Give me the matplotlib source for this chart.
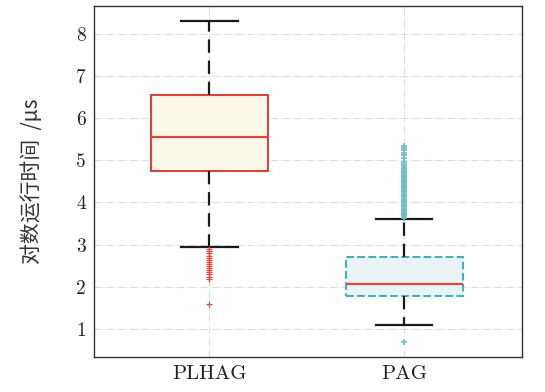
import matplotlib
matplotlib.use("Agg")
import matplotlib.pyplot as plt

# values
labels = ["PLHAG", "PAG"]
whislo = [2.94, 1.09]
q1 = [4.74, 1.79]
med = [5.55, 2.07]
q3 = [6.54, 2.70]
whishi = [8.30, 3.61]
fliers_plhag = [2.89, 2.84, 2.79, 2.74, 2.69, 2.64, 2.59, 2.54, 2.49,
                2.44, 2.39, 2.34, 2.29, 2.24, 2.19, 1.60]
fliers_pag = [0.68, 3.64, 3.67, 3.70, 3.73, 3.76, 3.79, 3.82, 3.85, 3.88, 3.91, 3.94,
              3.97, 4.00, 4.03, 4.06, 4.09, 4.12, 4.15, 4.18, 4.21, 4.24, 4.27, 4.30,
              4.33, 4.36, 4.39, 4.42, 4.45, 4.48, 4.51, 4.54, 4.57, 4.60, 4.63, 4.66,
              4.69, 4.72, 4.75, 4.78, 4.82, 4.86, 4.90, 4.96, 5.05, 5.12, 5.18, 5.24,
              5.29, 5.34]
yticks = [1, 2, 3, 4, 5, 6, 7, 8]

edge_colors = ["#d6453b", "#3fb4b4"]
face_colors = ["#fdf9ea", "#e9f3f6"]
flier_colors = ["#e8473d", "#6bbfcb"]
flier_widths = [0.9, 1.2]
box_styles = ["-", "--"]

fig = plt.figure(figsize=(5.45, 3.92), dpi=100)
ax = fig.add_axes([0.173, 0.09, 0.785, 0.895])

stats = []
for i, name in enumerate(labels):
    stats.append({
        "label": name, "whislo": whislo[i], "q1": q1[i], "med": med[i],
        "q3": q3[i], "whishi": whishi[i],
        "fliers": fliers_plhag if i == 0 else fliers_pag,
    })

for i, st in enumerate(stats):
    ax.bxp([st], positions=[i + 1], widths=0.6, patch_artist=True,
           capwidths=0.29,
           boxprops=dict(facecolor=face_colors[i], edgecolor=edge_colors[i],
                         linewidth=1.5, linestyle=box_styles[i]),
           medianprops=dict(color="#e0453a", linewidth=1.6),
           whiskerprops=dict(color="#1a1a1a", linewidth=1.6, linestyle=(0, (6, 3.5))),
           capprops=dict(color="#1a1a1a", linewidth=1.6),
           flierprops=dict(marker="+", markeredgecolor=flier_colors[i],
                           markersize=5, markeredgewidth=flier_widths[i],
                           linestyle="none"),
           zorder=3)

ax.set_xlim(0.41, 2.605)
ax.set_ylim(0.34, 8.66)
ax.set_xticks([1, 2])
ax.set_xticklabels(labels, fontsize=15, family="cmr10", color="#222222")
ax.set_yticks(yticks)
ax.set_yticklabels([str(t) for t in yticks], fontsize=14, family="cmr10", color="#222222")
ax.tick_params(length=0, pad=6)
ax.grid(True, color="#dcdcdc", linestyle="-.", linewidth=0.8, zorder=0)
ax.set_axisbelow(True)
for sp in ax.spines.values():
    sp.set_color("#333333")
    sp.set_linewidth(1.0)

ax.set_ylabel("对数运行时间  /μs", fontsize=15, labelpad=24,
              family=["Noto Sans CJK SC", "DejaVu Sans"], color="#333333")

fig.savefig("out.png", dpi=100)
